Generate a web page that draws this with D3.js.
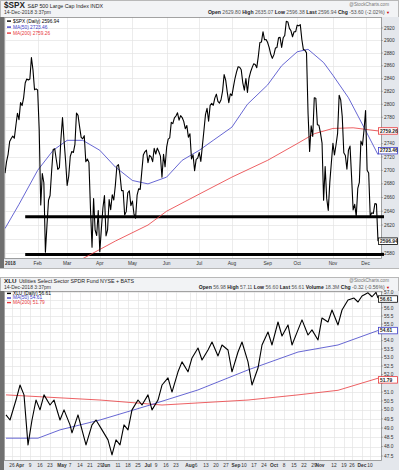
<!DOCTYPE html>
<html>
<head>
<meta charset="utf-8">
<script src="https://cdn.jsdelivr.net/npm/d3@7"></script>
<style>
  body { margin: 0; background: #fff; }
  svg { font-family: "Liberation Sans", Arial, sans-serif; display: block; }
</style>
</head>
<body>
<div id="chart"></div>
<script>
// market holidays, used to build the trading day axis (stockcharts skips non trading days)
const holidays2018 = ["2018-01-01","2018-01-15","2018-02-19","2018-03-30","2018-05-28","2018-07-04","2018-09-03","2018-11-22","2018-12-05"];

// $SPX daily closes, Jan 2 .. Dec 14 2018 (one per trading day)
const spxClose = [
  2695.81,2713.06,2723.99,2743.15,2747.71,2751.29,2748.23,2767.56,2786.24,2776.42,2802.56,2798.03,2810.30,2832.97,2839.13,2837.54,2839.25,2872.87,2853.53,2822.43,2823.81,
  2821.98,2762.13,2648.94,2695.14,2681.66,2581.00,2619.55,2656.00,2662.94,2698.63,2731.20,2732.22,2716.26,2701.33,2703.96,2747.30,2779.60,2744.28,2713.83,
  2677.67,2691.25,2720.94,2728.12,2726.80,2738.97,2786.57,2783.02,2765.31,2749.48,2747.33,2752.01,2712.92,2716.94,2711.93,2643.69,2588.26,2658.55,2612.62,2605.00,2640.87,
  2581.88,2614.45,2644.69,2662.84,2604.47,2613.16,2656.87,2642.19,2663.99,2656.30,2677.84,2706.39,2708.64,2693.13,2670.14,2670.29,2634.56,2639.40,2666.94,2669.91,2648.05,
  2654.80,2635.67,2629.73,2663.42,2672.63,2671.92,2697.79,2723.07,2727.72,2730.13,2711.45,2722.46,2720.13,2712.97,2733.01,2724.44,2733.29,2727.76,2721.33,2689.86,2724.01,2705.27,
  2734.62,2746.87,2748.80,2772.35,2770.37,2779.03,2782.00,2786.85,2775.63,2782.49,2779.66,2773.75,2762.59,2767.32,2749.76,2754.88,2717.07,2723.06,2699.63,2716.31,2718.37,
  2726.71,2713.22,2736.61,2759.82,2784.17,2793.84,2774.02,2798.29,2801.31,2798.43,2809.55,2815.62,2804.49,2801.83,2806.98,2820.40,2846.07,2837.44,2818.82,2802.60,2816.29,
  2813.36,2827.22,2840.35,2850.40,2858.45,2857.70,2853.58,2833.28,2821.93,2839.96,2818.37,2840.69,2850.13,2857.05,2862.96,2861.82,2856.98,2874.69,2896.74,2897.52,2914.04,2901.13,2901.52,
  2896.72,2888.60,2878.05,2871.68,2877.13,2887.89,2888.92,2904.18,2904.98,2888.80,2904.31,2907.95,2930.75,2929.67,2919.37,2915.56,2905.97,2914.00,2913.98,
  2924.59,2923.43,2925.51,2901.61,2885.57,2884.43,2880.34,2785.68,2728.37,2767.13,2750.79,2809.92,2809.21,2768.78,2767.78,2755.88,2740.69,2656.10,2705.57,2658.69,2641.25,2682.63,2711.74,
  2740.37,2723.06,2738.31,2755.45,2813.89,2806.83,2781.01,2726.22,2722.18,2701.58,2730.20,2736.27,2690.73,2641.89,2649.93,2632.56,2673.45,2682.17,2743.79,2737.76,2760.17,
  2790.37,2700.06,2695.95,2633.08,2637.72,2636.78,2651.07,2650.54,2596.94
];

// moving averages (date, value)
const spxMa50Dates = ["01-02","01-16","02-01","02-15","03-01","03-15","04-02","04-16","05-01","05-15","06-01","06-15","07-02","07-16","08-01","08-15","09-04","09-17","10-01","10-10","10-24","11-01","11-15","12-03","12-14"];
const spxMa50 = [2615,2650,2700,2730,2745,2745,2730,2705,2685,2680,2690,2715,2730,2745,2765,2800,2830,2860,2882,2886,2865,2845,2810,2760,2723.46];
const spxMa200Dates = ["01-02","02-01","03-01","03-15","04-02","04-16","05-15","06-01","07-02","08-01","09-04","10-01","10-16","11-01","11-20","12-14"];
const spxMa200 = [2520,2545,2565,2572,2585,2597,2620,2640,2665,2690,2715,2740,2755,2763,2764,2759.26];
const spxSupport = [2632, 2578];
const spxSupportFrom = "01-22";

const spxYTicks = [2580,2600,2620,2640,2660,2680,2700,2720,2740,2760,2780,2800,2820,2840,2860,2880,2900,2920];
const spxHiddenTicks = [2600, 2760];
const spxMonthDates = ["02-01","03-01","04-02","05-01","06-01","07-02","08-01","09-04","10-01","11-01","12-03"];
const spxMonthLabels = ["Feb","Mar","Apr","May","Jun","Jul","Aug","Sep","Oct","Nov","Dec"];

// XLU closes
const xluDates = ["03-21","03-23","03-28","04-02","04-04","04-06","04-10","04-12","04-16","04-18","04-23","04-25","04-30","05-02","05-07","05-08","05-11","05-15","05-17","05-22","05-24","05-30","06-04","06-06","06-08","06-12","06-14","06-18","06-20","06-25","06-27","07-02","07-05","07-10","07-12","07-17","07-19","07-24","07-26","07-31","08-02","08-07","08-09","08-14","08-16","08-21","08-23","08-28","08-30","09-05","09-07","09-12","09-14","09-19","09-21","09-26","09-28","10-03","10-05","10-10","10-12","10-17","10-19","10-24","10-26","10-31","11-02","11-07","11-09","11-14","11-16","11-21","11-27","11-29","12-03","12-07","12-11","12-13","12-14"];
const xluClose = [49.72,49.44,50.55,51.40,50.84,48.09,49.44,50.55,50.00,50.84,50.27,50.55,49.44,50.00,49.17,48.74,49.72,48.90,48.09,49.17,49.44,48.90,48.36,47.56,48.36,48.09,49.17,48.90,50.00,50.55,50.27,50.84,50.00,50.55,51.40,51.81,51.00,52.16,52.74,52.16,52.97,53.56,52.85,53.44,53.92,53.09,53.74,53.44,52.16,53.32,53.92,52.74,51.40,52.38,53.74,54.52,53.74,55.13,54.28,54.95,53.74,54.65,55.26,54.34,54.65,54.04,55.38,55.13,55.87,54.95,55.87,56.50,56.62,56.37,56.75,56.95,56.70,56.98,56.61];
const xluMa50Dates = ["03-21","04-13","04-30","05-29","07-03","08-07","09-12","10-17","11-14","12-14"];
const xluMa50 = [48.45,48.45,48.90,49.44,50.27,51.12,52.27,53.32,53.74,54.61];
const xluMa200Dates = ["03-21","05-29","07-12","09-12","10-17","11-14","12-14"];
const xluMa200 = [50.84,50.55,50.27,50.55,50.84,51.10,51.79];

const xluYTicks = [47.5,48,48.5,49,49.5,50,50.5,51,51.5,52,52.5,53,53.5,54,54.5,55,55.5,56,56.5,57];
const xluHiddenTicks = [51.5, 54.5, 56.5];
const xluTickDates = ["03-26","04-02","04-09","04-16","04-23","05-01","05-07","05-14","05-21","05-29","06-01","06-11","06-18","06-25","07-02","07-09","07-16","07-23","08-01","08-06","08-13","08-20","08-27","09-04","09-10","09-17","09-24","10-01","10-08","10-15","10-22","10-29","11-01","11-12","11-19","11-26","12-03","12-10"];
const xluTickLabels = ["26","Apr","9","16","23","May","7","14","21","29","Jun","11","18","25","Jul","9","16","23","Aug","6","13","20","27","Sep","10","17","24","Oct","8","15","22","29","Nov","12","19","26","Dec","10"];

// ---- trading day index ----
const dayIndex = {};
{
  let d = new Date(Date.UTC(2018, 0, 1)), i = 0;
  const end = Date.UTC(2018, 11, 14);
  while (+d <= end) {
    const s = d.toISOString().slice(0, 10);
    const wd = d.getUTCDay();
    if (wd !== 0 && wd !== 6 && !holidays2018.includes(s)) { dayIndex[s.slice(5)] = i; i++; }
    d = new Date(+d + 864e5);
  }
}
const idx = md => dayIndex[md];

const W = 399, H = 470;
const svg = d3.select("#chart").append("svg").attr("width", W).attr("height", H);

const colGrid = "#e4e4e4", colAxisBg = "#e4e7ec", colBorder = "#8c8c8c";
const colBlue = "#4040c8", colRed = "#e8383c";

//whole background
svg.append("rect").attr("width", W).attr("height", H).attr("fill", "#ffffff");

function drawPanel(p) {
  const { x, y, left, right, top, bottom } = p;

  // header + frame
  svg.append("rect").attr("x", 0.5).attr("y", p.panelTop + 0.5).attr("width", W - 1).attr("height", p.panelBottom - p.panelTop)
    .attr("fill", "#f2f3f5").attr("stroke", "#b8b8b8");
  svg.append("rect").attr("x", 0).attr("y", top).attr("width", left).attr("height", p.panelBottom - top).attr("fill", "#6f6f6f");
  // axis areas
  svg.append("rect").attr("x", right).attr("y", top).attr("width", W - right).attr("height", bottom - top).attr("fill", colAxisBg);
  svg.append("rect").attr("x", left).attr("y", bottom).attr("width", W - left).attr("height", p.panelBottom - bottom).attr("fill", colAxisBg);
  svg.append("rect").attr("x", left).attr("y", top).attr("width", right - left).attr("height", bottom - top).attr("fill", "#fff");

  const clipId = "clip" + p.name;
  svg.append("clipPath").attr("id", clipId).append("rect")
    .attr("x", left).attr("y", top).attr("width", right - left).attr("height", bottom - top);
  const g = svg.append("g").attr("clip-path", `url(#${clipId})`);

  // grid
  g.selectAll(".hg").data(p.yTicks).join("line")
    .attr("x1", left).attr("x2", right).attr("y1", d => Math.round(y(d)) + 0.5).attr("y2", d => Math.round(y(d)) + 0.5)
    .attr("stroke", colGrid).attr("stroke-width", 0.7);
  g.selectAll(".vg").data(p.xTickIdx).join("line")
    .attr("x1", d => Math.round(x(d)) + 0.5).attr("x2", d => Math.round(x(d)) + 0.5).attr("y1", top).attr("y2", bottom)
    .attr("stroke", colGrid).attr("stroke-width", 0.7);

  const line = d3.line().x(d => x(d[0])).y(d => y(d[1]));
  (p.extra || (() => {}))(g);
  g.append("path").attr("d", line(p.ma200)).attr("fill", "none").attr("stroke", colRed).attr("stroke-width", 0.8);
  g.append("path").attr("d", line(p.ma50)).attr("fill", "none").attr("stroke", colBlue).attr("stroke-width", 0.8);
  g.append("path").attr("d", line(p.price)).attr("fill", "none").attr("stroke", "#000").attr("stroke-width", 1.1)
    .attr("stroke-linejoin", "round");

  // borders
  svg.append("rect").attr("x", left + 0.5).attr("y", top + 0.5).attr("width", right - left).attr("height", bottom - top)
    .attr("fill", "none").attr("stroke", colBorder).attr("stroke-width", 0.8);

  // y tick labels (the ones hidden under the value boxes are left out)
  const shown = p.yTicks.filter(d => !p.hidden.includes(d));
  svg.append("g").selectAll("text").data(shown).join("text")
    .attr("x", right + 3).attr("y", d => y(d) + 1.6)
    .attr("font-size", 4.8).attr("fill", "#333").text(p.yFmt);
  svg.append("g").selectAll("line").data(p.yTicks).join("line")
    .attr("x1", right).attr("x2", right + 2).attr("y1", d => y(d)).attr("y2", d => y(d)).attr("stroke", "#777").attr("stroke-width", 0.5);

  // last value boxes
  p.boxes.forEach(b => {
    const yy = y(b.v) + (b.dy || 0);
    svg.append("rect").attr("x", right - 2.5).attr("y", yy - 3.2).attr("width", W - right + 1).attr("height", 6.5)
      .attr("fill", "#fff").attr("stroke", b.c).attr("stroke-width", 0.8);
    svg.append("text").attr("x", right - 1).attr("y", yy + 1.7).attr("font-size", 4.9).attr("font-weight", "bold")
      .attr("fill", "#222").text(b.t);
  });

  // x labels
  svg.append("g").selectAll("text").data(p.xLabels).join("text")
    .attr("x", d => x(d.i)).attr("y", bottom + 7)
    .attr("text-anchor", d => d.anchor || "middle")
    .attr("font-size", 4.8).attr("font-weight", d => d.bold ? "bold" : "normal").attr("fill", "#333").text(d => d.t);

  // legend inside plot
  p.legend.forEach((l, k) => {
    const ly = top + p.legendY + k * p.legendStep;
    svg.append("line").attr("x1", left + 3).attr("x2", left + 7).attr("y1", ly - 1.4).attr("y2", ly - 1.4)
      .attr("stroke", l.c).attr("stroke-width", 1.4);
    svg.append("text").attr("x", left + 9).attr("y", ly).attr("font-size", 4.8).attr("fill", l.c).text(l.t);
  });

  // header
  const h = svg.append("text").attr("x", 4).attr("y", p.panelTop + p.titleY).attr("fill", "#222");
  h.append("tspan").attr("font-size", p.symbolSize).attr("font-weight", "bold").text(p.symbol);
  h.append("tspan").attr("font-size", 5.3).attr("dx", 2.5).text(p.fullName);
  svg.append("text").attr("x", 4).attr("y", p.panelTop + p.dateY).attr("font-size", 5).attr("fill", "#333").text("14-Dec-2018 3:37pm");
  svg.append("text").attr("x", W - 10).attr("y", p.panelTop + p.titleY - 1.5).attr("text-anchor", "end")
    .attr("font-size", 4.6).attr("fill", "#777").text("@StockCharts.com");
  const q = svg.append("text").attr("x", W - 9).attr("y", p.panelTop + p.quoteY).attr("text-anchor", "end").attr("font-size", 5.1).attr("fill", "#222");
  p.quote.forEach(([k, v]) => {
    q.append("tspan").attr("font-weight", "bold").text(k + " ");
    q.append("tspan").attr("fill", "#555").text(v + " ");
  });
  q.append("tspan").attr("fill", "#c00").attr("font-size", 4).text("\u25BC");
}

// ---- top panel: $SPX ----
const x1 = d3.scaleLinear().domain([0, 240]).range([5, 378]);
const y1 = d3.scaleLog().domain([2580, 2920]).range([253, 28]);
drawPanel({
  name: "spx", x: x1, y: y1, left: 4, right: 381, top: 17, bottom: 258, panelTop: 0, panelBottom: 268,
  titleY: 7.5, dateY: 14, quoteY: 13.5, symbolSize: 8.2,
  yTicks: spxYTicks, hidden: spxHiddenTicks, yFmt: d => d,
  xTickIdx: [0].concat(spxMonthDates.map(idx)),
  xLabels: [{ i: 0, t: "2018", bold: true, anchor: "start" }].concat(spxMonthDates.map((d, k) => ({ i: idx(d), t: spxMonthLabels[k] }))),
  price: spxClose.map((v, i) => [i, v]),
  ma50: spxMa50Dates.map((d, k) => [idx(d), spxMa50[k]]),
  ma200: spxMa200Dates.map((d, k) => [idx(d), spxMa200[k]]),
  extra: g => {
    g.selectAll(".sup").data(spxSupport).join("line")
      .attr("x1", x1(idx(spxSupportFrom))).attr("x2", 381).attr("y1", d => y1(d)).attr("y2", d => y1(d))
      .attr("stroke", "#000").attr("stroke-width", 3);
  },
  boxes: [{ v: 2759.26, t: "2759.26", c: colRed }, { v: 2723.46, t: "2723.46", c: colBlue, dy: -4 }, { v: 2596.94, t: "2596.94", c: "#000" }],
  legendY: 5.5, legendStep: 6,
  legend: [{ t: "$SPX (Daily) 2596.94", c: "#000" }, { t: "MA(50) 2723.46", c: colBlue }, { t: "MA(200) 2759.26", c: colRed }],
  symbol: "$SPX", fullName: "S&P 500 Large Cap Index INDX",
  quote: [["Open", "2629.80"], ["High", "2635.07"], ["Low", "2596.38"], ["Last", "2596.94"], ["Chg", "-53.60 (-2.02%)"]]
});
// support lines continue into the axis strip
svg.append("g").selectAll("line").data(spxSupport).join("line")
  .attr("x1", 381).attr("x2", 384).attr("y1", d => y1(d)).attr("y2", d => y1(d)).attr("stroke", "#000").attr("stroke-width", 3);

// ---- bottom panel: XLU ----
const x2 = d3.scaleLinear().domain([53.5, 240]).range([5, 378]);
const y2 = d3.scaleLog().domain([47.5, 57]).range([456, 292]);
drawPanel({
  name: "xlu", x: x2, y: y2, left: 4, right: 381, top: 291, bottom: 460, panelTop: 277, panelBottom: 470,
  titleY: 6.2, dateY: 12.2, quoteY: 11.6, symbolSize: 6.2,
  yTicks: xluYTicks, hidden: xluHiddenTicks, yFmt: d => d.toFixed(1),
  xTickIdx: xluTickDates.map(idx),
  xLabels: xluTickDates.map((d, k) => ({ i: idx(d), t: xluTickLabels[k], bold: isNaN(+xluTickLabels[k]) })),
  price: xluDates.map((d, k) => [idx(d), xluClose[k]]),
  ma50: xluMa50Dates.map((d, k) => [idx(d), xluMa50[k]]),
  ma200: xluMa200Dates.map((d, k) => [idx(d), xluMa200[k]]),
  boxes: [{ v: 56.61, t: "56.61", c: "#000", dy: 0.8 }, { v: 54.61, t: "54.61", c: colBlue }, { v: 51.79, t: "51.79", c: colRed, dy: 1.6 }],
  legendY: 3.8, legendStep: 4.6,
  legend: [{ t: "XLU (Daily) 56.61", c: "#000" }, { t: "MA(50) 54.61", c: colBlue }, { t: "MA(200) 51.79", c: colRed }],
  symbol: "XLU", fullName: "Utilities Select Sector SPDR Fund NYSE + BATS",
  quote: [["Open", "56.98"], ["High", "57.11"], ["Low", "56.60"], ["Last", "56.61"], ["Volume", "18.3M"], ["Chg", "-0.32 (-0.56%)"]]
});
</script>
</body>
</html>
